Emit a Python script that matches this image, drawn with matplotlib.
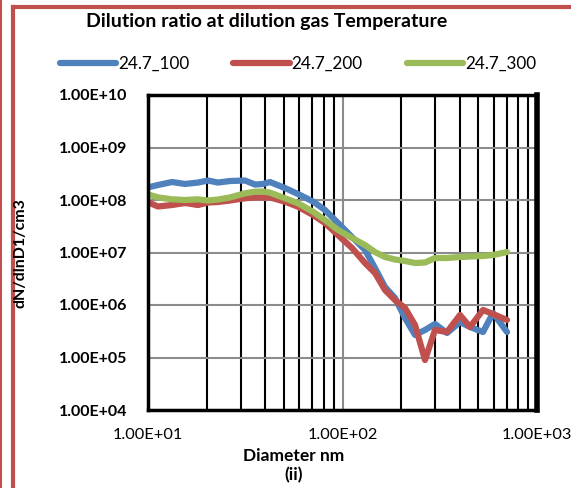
import numpy as np
import matplotlib
matplotlib.use("Agg")
import matplotlib.pyplot as plt
from matplotlib.ticker import NullLocator, FuncFormatter, LogLocator
from matplotlib.lines import Line2D

plt.rcParams['font.family'] = ['Lato', 'DejaVu Sans']

# diameter (nm)
diam = [10.2, 11.26, 13.29, 15.50, 18.07, 20.34, 22.90, 26.41, 31.53, 35.49,
        39.02, 42.39, 50.62, 59.05, 70.54, 81.28, 94.8, 111.9, 130.5, 146.9,
        165.4, 186.2, 209.6, 236.0, 265.6, 299.0, 344.5, 401.9, 452.4, 527.8,
        594.0, 701.2]

# dN/dlnD per series
s100 = [1.77e8, 1.93e8, 2.20e8, 2.02e8, 2.15e8, 2.35e8, 2.15e8, 2.30e8, 2.35e8, 1.97e8,
        2.02e8, 2.20e8, 1.69e8, 1.30e8, 9.36e7, 6.45e7, 3.65e7, 1.97e7, 1.12e7, 5.07e6,
        2.20e6, 1.36e6, 5.65e5, 2.69e5, 3.34e5, 4.35e5, 2.93e5, 4.74e5, 3.81e5, 3.06e5,
        7.05e5, 3.06e5]
s200 = [8.77e7, 7.52e7, 8.03e7, 8.77e7, 8.03e7, 8.96e7, 9.16e7, 9.78e7, 1.08e8, 1.12e8,
        1.12e8, 1.12e8, 9.29e7, 7.45e7, 5.18e7, 3.65e7, 2.15e7, 1.22e7, 6.31e6, 4.07e6,
        1.93e6, 1.24e6, 8.77e5, 4.16e5, 8.96e4, 3.34e5, 3.06e5, 6.45e5, 3.81e5, 8.03e5,
        6.74e5, 5.18e5]
s300 = [1.25e8, 1.12e8, 1.03e8, 1.00e8, 1.03e8, 9.78e7, 1.02e8, 1.12e8, 1.34e8, 1.44e8,
        1.45e8, 1.38e8, 1.08e8, 8.65e7, 5.98e7, 4.16e7, 2.69e7, 1.89e7, 1.39e7, 1.02e7,
        8.21e6, 7.36e6, 6.89e6, 6.31e6, 6.45e6, 7.85e6, 7.85e6, 8.21e6, 8.39e6, 8.58e6,
        8.96e6, 1.02e7]

names = ['24.7_100', '24.7_200', '24.7_300']
colors = ['#4F81BD', '#C0504D', '#9BBB59']

fig = plt.figure(figsize=(5.71, 4.88), dpi=100)
ax = fig.add_axes([148 / 571, 1 - 410 / 488, (537 - 148) / 571, (410 - 95) / 488])

for y, c, n in zip([s100, s200, s300], colors, names):
    ax.plot(diam, y, color=c, lw=4.5, label=n, solid_joinstyle='round',
            solid_capstyle='round', zorder=3)

ax.set_xscale('log')
ax.set_yscale('log')
ax.set_xlim(10, 1000)
ax.set_ylim(1e4, 1e10)
ax.xaxis.set_minor_locator(LogLocator(base=10, subs=np.arange(2, 10)))
ax.yaxis.set_minor_locator(NullLocator())
ax.yaxis.set_major_locator(LogLocator(base=10, numticks=10))

fmt = FuncFormatter(lambda v, p: "%.2E" % v)
ax.xaxis.set_major_formatter(fmt)
ax.yaxis.set_major_formatter(fmt)
ax.xaxis.set_minor_formatter(FuncFormatter(lambda v, p: ""))

ax.grid(which='major', axis='both', color='#8c8c8c', lw=1.5, zorder=1)
ax.grid(which='minor', axis='x', color='black', lw=1.5, zorder=1)
ax.set_axisbelow(True)

ax.tick_params(which='both', length=0)
ax.tick_params(axis='y', pad=15, labelsize=11.5)
ax.tick_params(axis='x', pad=13, labelsize=11.8)
for lb in ax.get_yticklabels():
    lb.set_fontweight('bold')

for s in ax.spines.values():
    s.set_linewidth(2.5)
    s.set_color('black')
    s.set_zorder(4)
ax.spines['right'].set_linewidth(4)

fig.text(21 / 571, 1 - 253 / 488, 'dN/dlnD1/cm3', rotation=90, ha='center',
         va='center', fontsize=11.5, fontweight='bold')
fig.text(294 / 571, 1 - 456 / 488, 'Diameter nm', ha='center', va='center',
         fontsize=12.5, fontweight='bold')
fig.text(294 / 571, 1 - 475 / 488, '(ii)', ha='center', va='center',
         fontsize=12.5, fontweight='bold')
fig.text(267 / 571, 1 - 22 / 488, 'Dilution ratio at dilution gas Temperature',
         ha='center', va='center', fontsize=14, fontweight='bold')

fig.legend(loc='center', bbox_to_anchor=(298 / 571, 1 - 64 / 488), ncol=3,
           frameon=False, handlelength=3.3, handletextpad=0.1,
           columnspacing=2.6, fontsize=12.3)

# red frame around the chart
red = '#C0504D'
fig.add_artist(Line2D([0.5 / 571, 0.5 / 571], [0, 1], color=red, lw=1.5))
fig.add_artist(Line2D([13 / 571, 13 / 571], [0, 1 - 7 / 488], color=red, lw=3))
fig.add_artist(Line2D([13 / 571, 1], [1 - 7 / 488, 1 - 7 / 488], color=red, lw=3))

fig.savefig('out.png', dpi=100)
